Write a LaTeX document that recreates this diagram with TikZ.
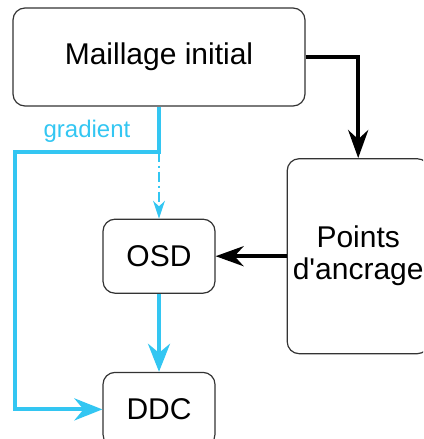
\documentclass[tikz,border=0pt]{standalone}
\usepackage{fontspec}
\setmainfont{Liberation Sans}
\usepackage{tikz}
\usetikzlibrary{arrows.meta,positioning}
\definecolor{c}{HTML}{33C6F2}
\definecolor{k}{HTML}{333333}

\begin{document}
\begin{tikzpicture}[x=0.5pt,y=-0.5pt,font=\fontsize{15}{16}\selectfont,
  block/.style={draw=k,line width=0.6pt,rounded corners=6pt,align=center},
  arr/.style={-{Stealth[length=14pt,width=10pt]},line width=2pt,draw=black},
  grad/.style={-{Stealth[length=14pt,width=11pt]},line width=2pt,draw=c},
  hint/.style={-{Stealth[length=9pt,width=6pt]},line width=0.6pt,draw=c,
    dash pattern=on 5pt off 2pt on 1pt off 2pt}]
  \useasboundingbox (0,0) rectangle (423,439);
  \clip (0,0) rectangle (423,439);
  \node[block,minimum width=146pt,minimum height=49pt] (maillage) at (159,57) {Maillage initial};
  \node[block,minimum width=56pt,minimum height=37pt,below=56pt of maillage] (osd) {OSD};
  \node[block,minimum width=56pt,minimum height=37pt,below=39pt of osd] (ddc) {DDC};
  \node[block,minimum width=71pt,minimum height=97.5pt,inner sep=1pt,right=35.5pt of osd] (points) {Points\\d\textquotesingle ancrage};
  \coordinate[below=22.5pt of maillage.south] (split);
  \draw[arr] (maillage.east) -| (points.north);
  \draw[arr] (points) -- (osd);
  \draw[grad] (maillage.south) -- (split) -- node[above,text=c,font=\fontsize{12}{14}\selectfont] {gradient} ++(-72pt,0) |- (ddc.west);
  \draw[hint] (split) -- (osd.north);
  \draw[grad] (osd) -- (ddc);
\end{tikzpicture}
\end{document}
